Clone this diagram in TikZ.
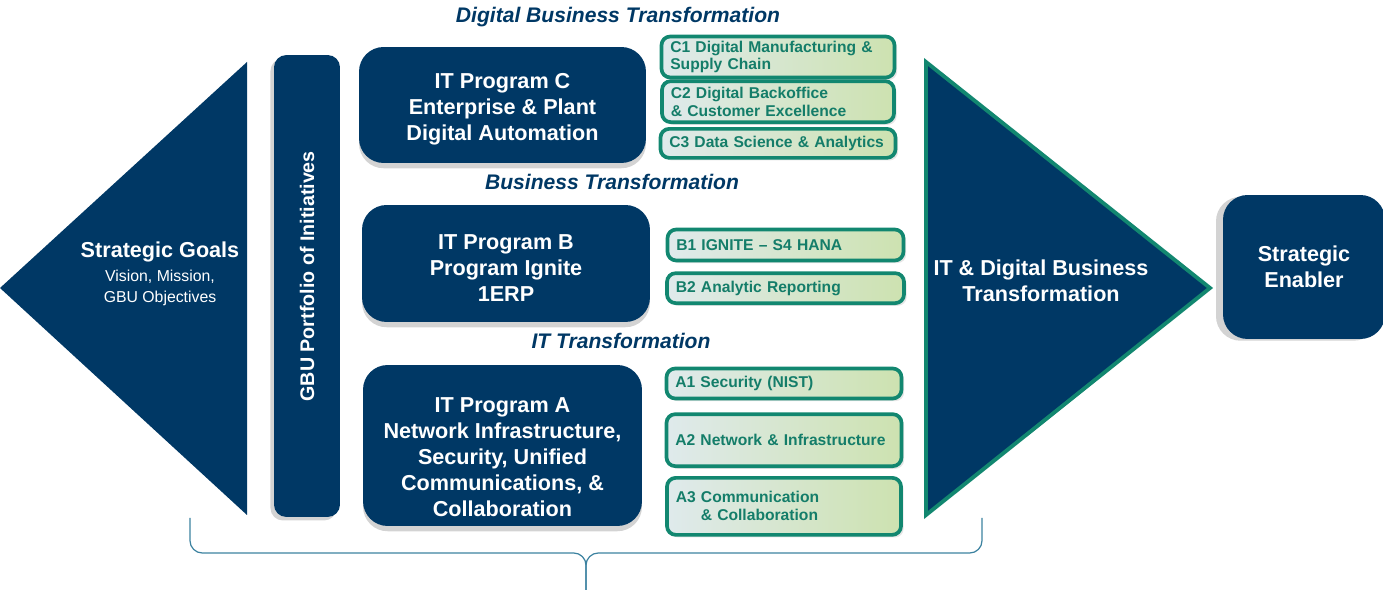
\documentclass[tikz,border=0pt]{standalone}
\usepackage{fontspec}
\setmainfont{Liberation Sans}
\usetikzlibrary{positioning,shadows}

\definecolor{navy}{RGB}{0,56,101}
\definecolor{tealline}{RGB}{18,135,112}
\definecolor{tealtext}{RGB}{20,125,105}
\definecolor{greenleft}{RGB}{223,234,236}
\definecolor{greenright}{RGB}{205,226,176}
\definecolor{bracecol}{RGB}{60,130,160}

\newcommand{\smalltext}{\mdseries\fontsize{9}{12}\selectfont}

\begin{document}
\begin{tikzpicture}[
  x=0.02cm, y=-0.02cm,
  prog/.style={fill=navy, rounded corners=14pt, text=white, align=center, inner sep=0pt,
    font=\fontsize{12.3}{14.8}\selectfont\bfseries},
  progshadow/.style={drop shadow={shadow xshift=0pt, shadow yshift=-3pt, opacity=.35}},
  initbox/.style={draw=tealline, line width=2.1pt, rounded corners=5pt,
    left color=greenleft, right color=greenright, text=tealtext, align=left,
    inner xsep=5pt, inner ysep=1pt, font=\fontsize{8.9}{10.2}\selectfont\bfseries,
    drop shadow={shadow xshift=1.5pt, shadow yshift=-1.5pt, opacity=.2}},
  layer/.style={text=navy, font=\fontsize{12}{14}\selectfont\bfseries\itshape},
  bigtext/.style={text=white, align=center, font=\fontsize{12.3}{14.8}\selectfont\bfseries}
]
  \useasboundingbox (0,0) rectangle (1383,590);

  % strategic goals (left arrow head)
  \coordinate (goaltop) at (247,62);
  \coordinate (goalbot) at (247,515);
  \coordinate (goaltip) at (0,288);
  \fill[navy] (goaltip) -- (goaltop) -- (goalbot) -- cycle;
  \node[bigtext] (goals) at (160,273.5) {Strategic Goals\\[-1.2pt]
    \smalltext Vision, Mission,\\[-2.9pt]\smalltext GBU Objectives};

  % portfolio bar
  \node[prog, rotate=90, rounded corners=7pt, minimum width=9.24cm, minimum height=1.32cm,
    font=\fontsize{11.2}{13}\selectfont\bfseries,
    drop shadow={shadow xshift=-2pt, shadow yshift=-2pt, opacity=.35}]
    (portfolio) at (307,286) {\hspace*{11pt}GBU Portfolio of Initiatives};

  % layers
  \node[layer] (digital) at (618,17) {Digital Business Transformation};
  \node[layer] (business) at (612,182) {Business Transformation};
  \node[layer] (ittrans) at (621,341) {IT Transformation};

  % IT programs
  \node[prog, progshadow, minimum width=5.74cm, minimum height=2.32cm] (progC) at (502.5,105)
    {\rule{0pt}{13.4pt}IT Program C\\Enterprise \& Plant\\Digital Automation};
  \node[prog, progshadow, minimum width=5.76cm, minimum height=2.34cm] (progB) at (506,263.5)
    {\rule{0pt}{13.4pt}IT Program B\\Program Ignite\\1ERP};
  \node[prog, progshadow, minimum width=5.58cm, minimum height=3.22cm] (progA) at (502.5,445.5)
    {\rule{0pt}{22pt}IT Program A\\Network Infrastructure,\\Security, Unified\\Communications, \&\\Collaboration};

  % initiatives
  \node[initbox, text width=4.31cm, minimum height=0.82cm] (c1) at (778,57)
    {C1 Digital Manufacturing \&\\Supply Chain};
  \node[initbox, text width=4.29cm, minimum height=0.82cm, below=0pt of c1] (c2)
    {C2 Digital Backoffice\\\& Customer Excellence};
  \node[initbox, text width=4.35cm, minimum height=0.58cm, below=0.06cm of c2] (c3)
    {C3 Data Science \& Analytics};

  \node[initbox, text width=4.37cm, minimum height=0.62cm] (b1) at (785.5,245)
    {B1 IGNITE – S4 HANA};
  \node[initbox, text width=4.39cm, minimum height=0.60cm, below=0.18cm of b1] (b2)
    {B2 Analytic Reporting};

  \node[initbox, text width=4.35cm, minimum height=0.60cm] (a1) at (784,383.5)
    {A1 Security (NIST)};
  \node[initbox, text width=4.35cm, minimum height=1.04cm, below=0.24cm of a1] (a2)
    {A2 Network \& Infrastructure};
  \node[initbox, text width=4.33cm, minimum height=1.14cm, below=0.16cm of a2] (a3)
    {A3 Communication\\\hspace*{1.6em}\& Collaboration};

  % transformation (right arrow head)
  \coordinate (outtop) at (926,62);
  \coordinate (outbot) at (926,515);
  \coordinate (outtip) at (1210,288);
  \filldraw[fill=navy, draw=tealline, line width=2.2pt] (outtop) -- (outtip) -- (outbot) -- cycle;
  \node[bigtext] (itdigital) at (1041,281) {IT \& Digital Business\\Transformation};

  \node[prog, minimum width=3.24cm, minimum height=2.88cm,
    drop shadow={shadow xshift=-4pt, shadow yshift=-1pt, opacity=.35}]
    (enabler) at (1304,267) {Strategic\\Enabler};

  % brace
  \coordinate (braceL) at (190,518);
  \coordinate (braceR) at (982,518);
  \coordinate (braceM) at (586,590);
  \draw[bracecol, line width=0.7pt, rounded corners=7pt] (braceL) -- (190,553) -- (586,553) -- (braceM);
  \draw[bracecol, line width=0.7pt, rounded corners=7pt] (braceR) -- (982,553) -- (586,553) -- (braceM);
\end{tikzpicture}
\end{document}
